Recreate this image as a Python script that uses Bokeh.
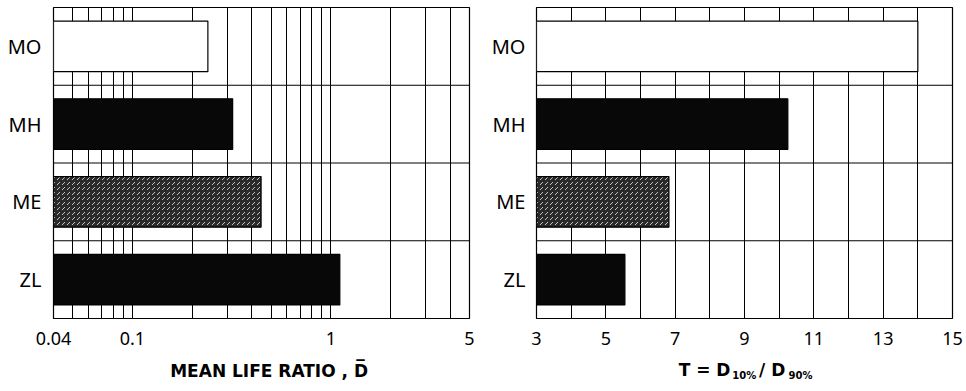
from bokeh.plotting import figure
from bokeh.layouts import row, column
from bokeh.models import FactorRange, FixedTicker, Span, ColumnDataSource, Range1d
from bokeh.core.properties import value
from bokeh.embed import file_html
from bokeh.resources import INLINE

categories = ["ZL", "ME", "MH", "MO"]          # bottom to top
mean_life_ratio = [1.11, 0.445, 0.32, 0.24]
t_ratio = [5.55, 6.82, 10.25, 14.0]
fills = ["#080808", "#2a2a2a", "#080808", "#ffffff"]
hatches = [" ", "right_diagonal_dash", " ", " "]

left_ticks = [0.04, 0.1, 1, 5]
left_grid = [0.05, 0.06, 0.07, 0.08, 0.09, 0.1, 0.2, 0.3, 0.4, 0.5, 0.6, 0.7, 0.8, 0.9, 1, 2, 3, 4]
right_ticks = [3, 5, 7, 9, 11, 13, 15]
right_grid = [4, 5, 6, 7, 8, 9, 10, 11, 12, 13, 14]

left_title = ["MEAN LIFE RATIO , D\u0305"]
left_title_x = [0.155]
right_title = ["T = D", "10%", "/ D", "90%"]
right_title_x = [7.10, 8.65, 9.42, 10.27]
right_title_y = [0.62, 0.44, 0.62, 0.44]
right_title_size = ["17px", "10px", "17px", "10px"]

FONT = "Noto Sans"
TFONT = "DejaVu Sans"


def base(fig, grid, ystand):
    fig.outline_line_color = "black"
    fig.outline_line_width = 1.2
    fig.xgrid.ticker = FixedTicker(ticks=grid)
    fig.xgrid.grid_line_color = "black"
    fig.xgrid.grid_line_width = 1
    fig.ygrid.grid_line_color = None
    for ax in (fig.xaxis[0], fig.yaxis[0]):
        ax.axis_line_color = None
        ax.major_tick_line_color = None
        ax.minor_tick_line_color = None
        ax.major_tick_in = 0
        ax.major_tick_out = 0
        ax.major_label_text_font = FONT
        ax.major_label_text_color = "black"
    fig.yaxis.major_label_text_font_size = "20px"
    fig.yaxis.major_label_standoff = ystand
    fig.xaxis.major_label_text_font_size = "18px"
    fig.xaxis.major_label_standoff = 13
    for b in range(1, len(categories)):
        fig.add_layout(Span(location=b, dimension="width", line_color="black", line_width=1))


def strip(x_range, x_axis_type, border_right):
    s = figure(frame_width=416, frame_height=30, x_range=x_range, y_range=Range1d(0, 1),
               x_axis_type=x_axis_type, x_axis_location=None, y_axis_location=None,
               output_backend="svg", toolbar_location=None,
               min_border_left=53, min_border_right=border_right, min_border_top=0, min_border_bottom=0)
    s.outline_line_color = None
    s.grid.grid_line_color = None
    return s


src_l = ColumnDataSource(dict(cat=categories, val=mean_life_ratio, fill=fills, hatch=hatches))
left = figure(frame_width=416, frame_height=311, x_axis_type="log", x_range=Range1d(0.04, 5),
              y_range=FactorRange(*categories), output_backend="svg", toolbar_location=None,
              min_border_left=53, min_border_right=14, min_border_top=7, min_border_bottom=40)
base(left, left_grid, 12)
left.hbar(y="cat", right="val", left=0.04, height=0.65, source=src_l, fill_color="fill",
          line_color="black", line_width=1.2, hatch_pattern="hatch", hatch_color="#c4c4c4",
          hatch_scale=5, hatch_weight=1)
left.xaxis.ticker = FixedTicker(ticks=left_ticks)
left.xaxis.major_label_overrides = {0.04: "0.04", 0.1: "0.1", 1: "1", 5: "5"}

src_r = ColumnDataSource(dict(cat=categories, val=t_ratio, fill=fills, hatch=hatches))
right = figure(frame_width=416, frame_height=311, x_range=Range1d(3, 15),
               y_range=FactorRange(*categories), output_backend="svg", toolbar_location=None,
               min_border_left=53, min_border_right=12, min_border_top=7, min_border_bottom=40)
base(right, right_grid, 11)
right.hbar(y="cat", right="val", left=3, height=0.65, source=src_r, fill_color="fill",
           line_color="black", line_width=1.2, hatch_pattern="hatch", hatch_color="#c4c4c4",
           hatch_scale=5, hatch_weight=1)
right.xaxis.ticker = FixedTicker(ticks=right_ticks)

ls = strip(left.x_range, "log", 14)
ls.text(x=left_title_x, y=[0.6], text=left_title, text_font=value(TFONT), text_font_style="bold",
        text_font_size="17px", text_color="black", text_align="left", text_baseline="middle")

rs = strip(right.x_range, "linear", 12)
rs.text(x=right_title_x, y=right_title_y, text=right_title, text_font=value(TFONT),
        text_font_style="bold", text_font_size=right_title_size, text_color="black",
        text_align="left", text_baseline="middle")

layout = column(row(left, right), row(ls, rs))
open("out.html", "w").write(file_html(layout, INLINE))
